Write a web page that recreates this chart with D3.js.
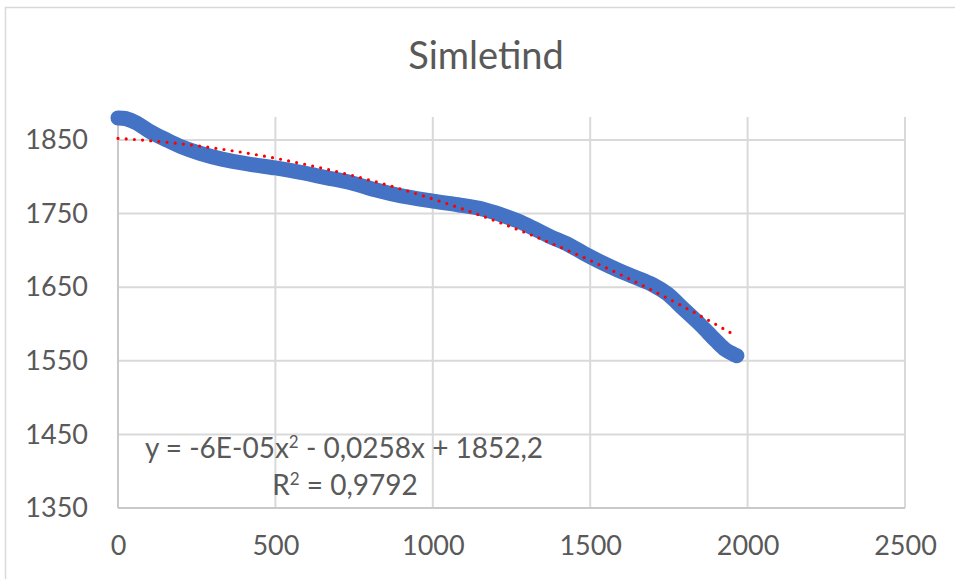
<!DOCTYPE html>
<html>
<head>
<meta charset="utf-8">
<script src="https://cdn.jsdelivr.net/npm/d3@7/dist/d3.min.js"></script>
<style>
  html, body { margin: 0; padding: 0; background: #fff; }
  svg { display: block; font-family: Lato, "Open Sans", sans-serif; }
</style>
</head>
<body>
<svg id="chart" width="955" height="579"></svg>
<script>
// ---- data ----
const title = "Simletind";
const distance = [0, 25, 60, 100, 150, 200, 260, 330, 420, 500, 580, 660, 740, 820, 900, 1000, 1080, 1160, 1220, 1270, 1320, 1372, 1430, 1480, 1530, 1590, 1640, 1700, 1745, 1795, 1850, 1900, 1930, 1955, 1966];
const elevation = [1880, 1879, 1873, 1862, 1851, 1841, 1832, 1824, 1817, 1812, 1806, 1799, 1792, 1782, 1774, 1767, 1762, 1756, 1748, 1740, 1730, 1719, 1708, 1696, 1685, 1673, 1664, 1653, 1641, 1621, 1599, 1577, 1565, 1559, 1557];
const xTicks = [0, 500, 1000, 1500, 2000, 2500];
const yTicks = [1350, 1450, 1550, 1650, 1750, 1850];
// polynomial trendline (order 2)
const trendCoef = { a: -5.65e-5, b: -0.0258, c: 1852.2 };
const trendLabel1 = ["y = -6E-05x", "2", " - 0,0258x + 1852,2"];
const trendLabel2 = ["R", "2", " = 0,9792"];

// ---- layout ----
const svg = d3.select("#chart");
const plot = { left: 118, right: 905, top: 117, bottom: 508 };

const x = d3.scaleLinear().domain([0, 2500]).range([plot.left, plot.right]);
const y = d3.scaleLinear().domain([1350, 1881.25]).range([plot.bottom, plot.top]);

// chart border
svg.append("rect")
  .attr("x", 5.5).attr("y", 7.5).attr("width", 960).attr("height", 600)
  .attr("fill", "none").attr("stroke", "#d9d9d9").attr("stroke-width", 1.5);

// title
svg.append("text")
  .attr("x", 486).attr("y", 69)
  .attr("text-anchor", "middle")
  .attr("font-size", 38)
  .attr("fill", "#595959")
  .text(title);

// gridlines
const grid = svg.append("g");
grid.selectAll("line.h").data(yTicks.filter(d => d !== 1350)).enter().append("line")
  .attr("x1", plot.left).attr("x2", plot.right)
  .attr("y1", d => y(d)).attr("y2", d => y(d))
  .attr("stroke", "#d9d9d9").attr("stroke-width", 2);
grid.selectAll("line.v").data(xTicks.filter(d => d !== 0)).enter().append("line")
  .attr("x1", d => x(d)).attr("x2", d => x(d))
  .attr("y1", plot.top).attr("y2", plot.bottom)
  .attr("stroke", "#d9d9d9").attr("stroke-width", 2);

// axes lines
svg.append("line").attr("x1", plot.left).attr("x2", plot.right)
  .attr("y1", plot.bottom).attr("y2", plot.bottom)
  .attr("stroke", "#c9c9c9").attr("stroke-width", 2);
svg.append("line").attr("x1", plot.left).attr("x2", plot.left)
  .attr("y1", plot.top).attr("y2", plot.bottom)
  .attr("stroke", "#c9c9c9").attr("stroke-width", 2);

// axis labels via d3 axes
const yAxis = d3.axisLeft(y).tickValues(yTicks).tickSize(0).tickPadding(30).tickFormat(d3.format("d"));
const gy = svg.append("g").attr("transform", `translate(${plot.left},0)`).call(yAxis);
gy.select(".domain").remove();
gy.selectAll("text").attr("font-size", 27).attr("fill", "#595959").attr("font-family", "Lato, sans-serif");

const xAxis = d3.axisBottom(x).tickValues(xTicks).tickSize(0).tickPadding(28).tickFormat(d3.format("d"));
const gx = svg.append("g").attr("transform", `translate(0,${plot.bottom})`).call(xAxis);
gx.select(".domain").remove();
gx.selectAll("text").attr("font-size", 27).attr("fill", "#595959").attr("font-family", "Lato, sans-serif");

// data series
const pts = distance.map((d, i) => [d, elevation[i]]);
const line = d3.line().x(d => x(d[0])).y(d => y(d[1])).curve(d3.curveCatmullRom.alpha(0.5));
svg.append("path")
  .datum(pts)
  .attr("d", line)
  .attr("fill", "none")
  .attr("stroke", "#4472C4")
  .attr("stroke-width", 15)
  .attr("stroke-linecap", "round")
  .attr("stroke-linejoin", "round");

// trendline
const xmax = d3.max(distance);
const trendPts = d3.range(0, 101).map(i => {
  const xv = xmax * i / 100;
  return [xv, trendCoef.a * xv * xv + trendCoef.b * xv + trendCoef.c];
});
svg.append("path")
  .datum(trendPts)
  .attr("d", d3.line().x(d => x(d[0])).y(d => y(d[1])))
  .attr("fill", "none")
  .attr("stroke", "#FF0000")
  .attr("stroke-width", 3.2)
  .attr("stroke-linecap", "round")
  .attr("stroke-dasharray", "0 8.2");

// trendline label
function addLabel(parts, cx, by) {
  const t = svg.append("text")
    .attr("x", cx).attr("y", by)
    .attr("text-anchor", "middle")
    .attr("font-size", 28)
    .attr("fill", "#595959");
  t.append("tspan").text(parts[0]);
  t.append("tspan").attr("font-size", 17).attr("dy", -10).text(parts[1]);
  t.append("tspan").attr("dy", 10).text(parts[2]);
}
addLabel(trendLabel1, 344, 458);
addLabel(trendLabel2, 345, 495);
</script>
</body>
</html>
